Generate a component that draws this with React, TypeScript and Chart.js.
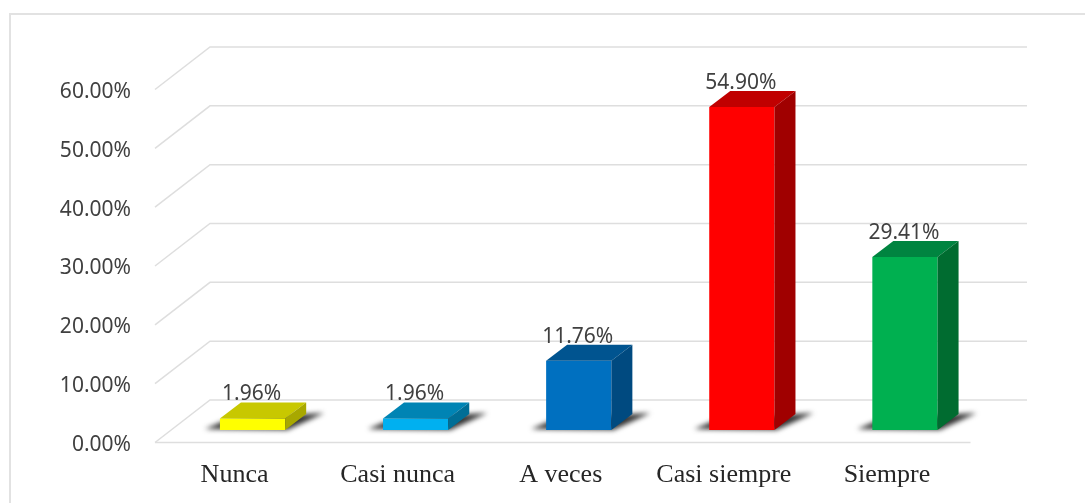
import React, { useEffect, useRef } from "react";
import { Chart, registerables } from "chart.js";

Chart.register(...registerables);

const categories = ["Nunca", "Casi nunca", "A veces", "Casi siempre", "Siempre"];
const percentages = [1.96, 1.96, 11.76, 54.9, 29.41];
const frontColors = ["#FFFF00", "#00B0F0", "#0070C0", "#FF0000", "#00B050"];
const topColors = ["#C8C800", "#0084B4", "#005490", "#C00000", "#008440"];
const sideColors = ["#A8A800", "#006E96", "#004A80", "#A00000", "#006C30"];
const gridTicks = [0, 10, 20, 30, 40, 50, 60];

// Projection of the pseudo-3D box drawn around the plotting plane.
const BAR_DEPTH_X = 21;
const BAR_DEPTH_Y = 16;
const FLOOR_FRONT_X = -16;
const FLOOR_FRONT_Y = 12.5;
const FLOOR_BACK_X = 39;
const FLOOR_BACK_Y = -30;
const GRID_COLOR = "#DEDEDE";
const TEXT_COLOR = "#404040";

const boxPlugin = {
  id: "box3d",
  beforeDraw(chart: any) {
    const { ctx, width, height } = chart;
    ctx.save();
    ctx.fillStyle = "#FFFFFF";
    ctx.fillRect(0, 0, width, height);
    // Outer frame: only the top and left edges fall inside the page.
    ctx.strokeStyle = "#E2E2E2";
    ctx.lineWidth = 2;
    ctx.beginPath();
    ctx.moveTo(10, height);
    ctx.lineTo(10, 14);
    ctx.lineTo(width, 14);
    ctx.stroke();
    ctx.restore();
  },
  beforeDatasetsDraw(chart: any) {
    const { ctx, chartArea, scales } = chart;
    ctx.save();
    ctx.strokeStyle = GRID_COLOR;
    ctx.lineWidth = 1.5;
    // Back wall lines with their diagonal returns on the left side.
    gridTicks.forEach((tick) => {
      const y = scales.y.getPixelForValue(tick);
      ctx.beginPath();
      ctx.moveTo(chartArea.left + FLOOR_FRONT_X, y + FLOOR_FRONT_Y);
      ctx.lineTo(chartArea.left + FLOOR_BACK_X, y + FLOOR_BACK_Y);
      ctx.lineTo(chartArea.right + FLOOR_BACK_X + 1.5, y + FLOOR_BACK_Y);
      ctx.stroke();
    });
    // Front edge of the floor.
    const floorY = scales.y.getPixelForValue(0) + FLOOR_FRONT_Y;
    ctx.beginPath();
    ctx.moveTo(chartArea.left + FLOOR_FRONT_X, floorY);
    ctx.lineTo(chartArea.right + FLOOR_FRONT_X, floorY);
    ctx.stroke();

    // Soft cast shadows lying on the floor behind each bar.
    const bars = chart.getDatasetMeta(0).data;
    ctx.filter = "blur(2.5px)";
    ctx.fillStyle = "#333333";
    bars.forEach((bar: any) => {
      const left = bar.x - bar.width / 2;
      const right = bar.x + bar.width / 2;
      const base = bar.base;
      ctx.beginPath();
      ctx.moveTo(left - 15, base - 1);
      ctx.lineTo(left + 4, base - 9);
      ctx.lineTo(right + BAR_DEPTH_X, base - BAR_DEPTH_Y);
      ctx.lineTo(right + BAR_DEPTH_X + 18, base - BAR_DEPTH_Y - 1);
      ctx.lineTo(right + 2, base);
      ctx.closePath();
      ctx.fill();
    });
    ctx.restore();
  },
  afterDatasetsDraw(chart: any) {
    const { ctx } = chart;
    const bars = chart.getDatasetMeta(0).data;
    ctx.save();
    bars.forEach((bar: any, i: number) => {
      const left = bar.x - bar.width / 2;
      const right = bar.x + bar.width / 2;
      // Top face
      ctx.fillStyle = topColors[i];
      ctx.beginPath();
      ctx.moveTo(left, bar.y);
      ctx.lineTo(left + BAR_DEPTH_X, bar.y - BAR_DEPTH_Y);
      ctx.lineTo(right + BAR_DEPTH_X, bar.y - BAR_DEPTH_Y);
      ctx.lineTo(right, bar.y);
      ctx.closePath();
      ctx.fill();
      // Side face
      ctx.fillStyle = sideColors[i];
      ctx.beginPath();
      ctx.moveTo(right, bar.y);
      ctx.lineTo(right + BAR_DEPTH_X, bar.y - BAR_DEPTH_Y);
      ctx.lineTo(right + BAR_DEPTH_X, bar.base - BAR_DEPTH_Y);
      ctx.lineTo(right, bar.base);
      ctx.closePath();
      ctx.fill();
      // Value label
      ctx.fillStyle = TEXT_COLOR;
      ctx.font = '21px "Noto Sans"';
      ctx.textAlign = "center";
      ctx.textBaseline = "middle";
      ctx.fillText(`${percentages[i].toFixed(2)}%`, bar.x - 1, bar.y - 24);
    });
    ctx.restore();
  },
};

export default function App() {
  const canvasRef = useRef<HTMLCanvasElement>(null);

  useEffect(() => {
    const chart = new Chart(canvasRef.current as HTMLCanvasElement, {
      type: "bar",
      data: {
        labels: categories,
        datasets: [
          {
            data: percentages,
            backgroundColor: frontColors,
            barPercentage: 0.4,
            categoryPercentage: 1,
            borderWidth: 0,
          },
        ],
      },
      options: {
        responsive: false,
        animation: false,
        layout: { padding: { top: 77, right: 98.5, left: 0, bottom: 0 } },
        plugins: {
          legend: { display: false },
          title: { display: false },
          tooltip: { enabled: false },
        },
        scales: {
          x: {
            grid: { display: false, drawTicks: false },
            border: { display: false },
            afterFit(scale: any) {
              scale.height = 73;
            },
            ticks: {
              color: "#262626",
              font: { family: '"Liberation Serif"', size: 26 },
              maxRotation: 0,
              autoSkip: false,
              padding: 30,
              labelOffset: -18,
            },
          },
          y: {
            min: 0,
            max: 60,
            grid: { display: false, drawTicks: false },
            border: { display: false },
            afterFit(scale: any) {
              scale.width = 171;
            },
            ticks: {
              stepSize: 10,
              color: TEXT_COLOR,
              font: { family: '"Noto Sans"', size: 21 },
              padding: 40,
              labelOffset: 15,
              callback: (value: any) => `${Number(value).toFixed(2)}%`,
            },
          },
        },
      },
      plugins: [boxPlugin],
    });
    return () => chart.destroy();
  }, []);

  return (
    <div style={{ position: "fixed", left: 0, top: 0, width: 1085, height: 503 }}>
      <canvas ref={canvasRef} width={1085} height={503} style={{ display: "block" }} />
    </div>
  );
}
